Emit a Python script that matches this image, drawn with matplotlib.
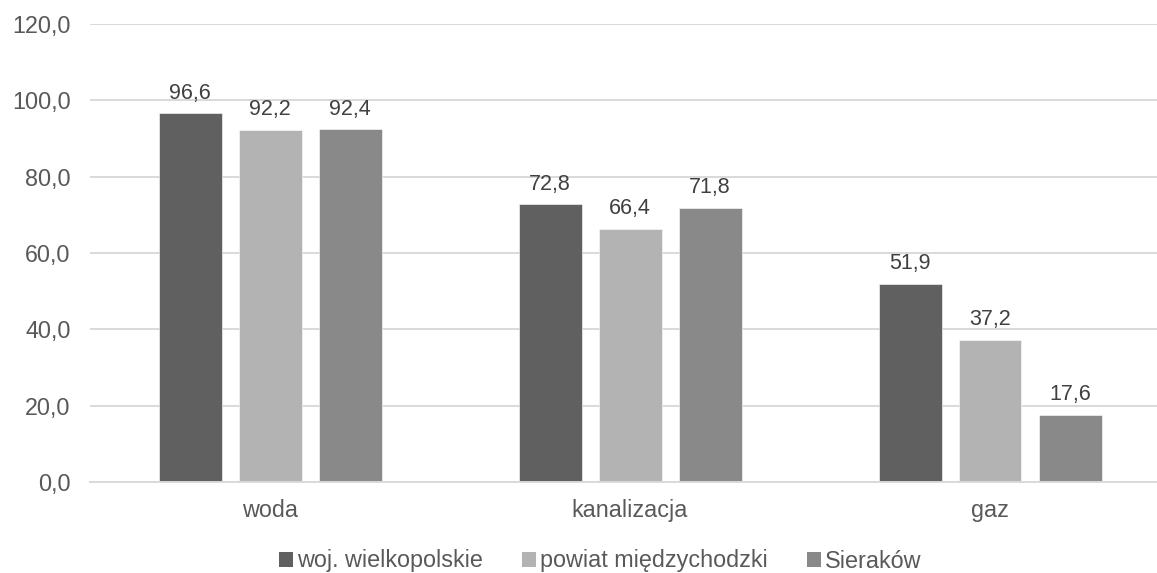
import matplotlib
matplotlib.use("Agg")
import matplotlib.pyplot as plt
from matplotlib.patches import Patch
import numpy as np

plt.rcParams['font.family'] = ['Liberation Sans', 'DejaVu Sans']

categories = ["woda", "kanalizacja", "gaz"]
series_names = ["woj. wielkopolskie", "powiat międzychodzki", "Sieraków"]
woj = [96.6, 72.8, 51.9]
powiat = [92.2, 66.4, 37.2]
sierakow = [92.4, 71.8, 17.6]
values = [woj, powiat, sierakow]
colors = ["#606060", "#b3b3b3", "#898989"]
yticks = [0, 20, 40, 60, 80, 100, 120]

W, H = 1157, 573
fig = plt.figure(figsize=(W/100, H/100), dpi=100)
ax = fig.add_axes([90/W, 1-482/H, 1-90/W, (482-24)/H])

txt = "#595959"
fs_tick = 16.8
fs_lab = 15.5
x = np.arange(len(categories))
bw = 63/360
step = 80/360
for i, (vals, c) in enumerate(zip(values, colors)):
    pos = x + (i-1)*step
    bars = ax.bar(pos, vals, width=bw, color=c, edgecolor="#ffffff", linewidth=0.4, zorder=3)
    for b, v in zip(bars, vals):
        ax.annotate(f"{v:.1f}".replace(".", ","), (b.get_x()+b.get_width()/2, v),
                    xytext=(0, 14.5), textcoords="offset points",
                    ha="center", va="center", fontsize=fs_lab, color="#404040")

ax.set_xlim(-0.5, -0.5 + (W-90)/360)
ax.set_ylim(0, 120)
ax.set_yticks(yticks)
ax.set_yticklabels([f"{t:.1f}".replace(".", ",") for t in yticks], fontsize=fs_tick, color=txt)
ax.set_xticks(x)
ax.set_xticklabels(categories, fontsize=fs_tick, color=txt)
ax.tick_params(axis="y", length=0, pad=14)
ax.tick_params(axis="x", length=0, pad=12)
ax.grid(axis="y", color="#d9d9d9", linewidth=1.4, zorder=0)
for s in ["top", "right", "left"]:
    ax.spines[s].set_visible(False)
ax.spines["bottom"].set_color("#d9d9d9")
ax.spines["bottom"].set_linewidth(1.4)
ax.spines["bottom"].set_zorder(4)

handles = [Patch(facecolor=c, edgecolor="none") for c in colors]
fig.legend(handles, series_names, loc="center", bbox_to_anchor=(600/W, 1-561/H),
           ncol=3, frameon=False, fontsize=fs_tick, labelcolor=txt,
           handlelength=0.6, handleheight=0.6, handletextpad=0.17, columnspacing=1.67)

fig.savefig("out.png", dpi=100)
